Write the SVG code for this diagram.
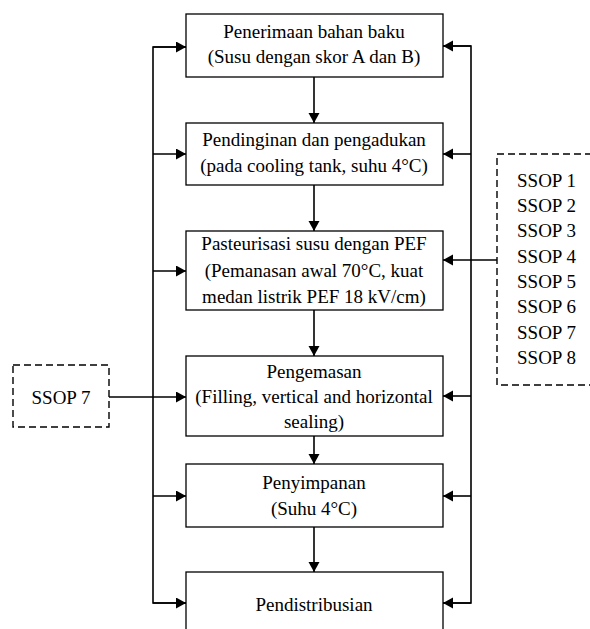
<svg xmlns="http://www.w3.org/2000/svg" width="590" height="629" viewBox="0 0 590 629">
<style>
.box{fill:#fff;stroke:#000;stroke-width:1.3}
.dash{fill:none;stroke:#000;stroke-width:1.4;stroke-dasharray:7 4}
.ln{fill:none;stroke:#000;stroke-width:1.6}
.arr{fill:none;stroke:#000;stroke-width:1.6;marker-end:url(#ah)}
.t{font-family:'Liberation Serif','DejaVu Serif',serif;font-size:19px;fill:#000}
.c{text-anchor:middle}
</style>
<defs>
<marker id="ah" markerUnits="userSpaceOnUse" markerWidth="11" markerHeight="12" refX="10" refY="5.5" orient="auto">
<path d="M0,0 L10,5.5 L0,11 z" fill="#000"/>
</marker>
</defs>
<g id="connectors">
<path class="ln" d="M186,47 H153 V603 H186"/>
<path class="ln" d="M443,46 H471 V603 H443"/>
<path class="arr" d="M153,47 H186"/>
<path class="arr" d="M153,154 H186"/>
<path class="arr" d="M153,271 H186"/>
<path class="arr" d="M109,397 H186"/>
<path class="arr" d="M153,496 H186"/>
<path class="arr" d="M153,603 H186"/>
<path class="arr" d="M471,46 H443"/>
<path class="arr" d="M471,154 H443"/>
<path class="arr" d="M497,260 H443"/>
<path class="arr" d="M471,396 H443"/>
<path class="arr" d="M471,496 H443"/>
<path class="arr" d="M471,603 H443"/>
<path class="arr" d="M314,77 V123"/>
<path class="arr" d="M314,185 V231"/>
<path class="arr" d="M314,310 V356"/>
<path class="arr" d="M314,436 V464"/>
<path class="arr" d="M314,527 V572"/>
</g>
<g font-family="Liberation Serif, DejaVu Serif, serif" font-size="19">
<g id="n1">
<rect class="box" x="186" y="14" width="257" height="63"/>
<text class="t c" x="314" y="38">Penerimaan bahan baku</text>
<text class="t c" x="314" y="63">(Susu dengan skor A dan B)</text>
</g>
<g id="n2">
<rect class="box" x="186" y="123" width="257" height="62"/>
<text class="t c" x="314" y="146">Pendinginan dan pengadukan</text>
<text class="t c" x="314" y="172">(pada cooling tank, suhu 4°C)</text>
</g>
<g id="n3">
<rect class="box" x="186" y="231" width="257" height="79"/>
<text class="t c" x="314" y="250">Pasteurisasi susu dengan PEF</text>
<text class="t c" x="314" y="277">(Pemanasan awal 70°C, kuat</text>
<text class="t c" x="314" y="303">medan listrik PEF 18 kV/cm)</text>
</g>
<g id="n4">
<rect class="box" x="186" y="356" width="257" height="80"/>
<text class="t c" x="314" y="378">Pengemasan</text>
<text class="t c" x="314" y="403">(Filling, vertical and horizontal</text>
<text class="t c" x="314" y="428">sealing)</text>
</g>
<g id="n5">
<rect class="box" x="186" y="464" width="257" height="63"/>
<text class="t c" x="314" y="489">Penyimpanan</text>
<text class="t c" x="314" y="515">(Suhu 4°C)</text>
</g>
<g id="n6">
<rect class="box" x="186" y="572" width="257" height="70"/>
<text class="t c" x="314" y="611">Pendistribusian</text>
</g>
<g id="ssop7">
<rect class="dash" x="13" y="365" width="96" height="62"/>
<text class="t c" x="61" y="404">SSOP 7</text>
</g>
<g id="ssop-list">
<rect class="dash" x="497" y="154" width="110" height="231"/>
<text class="t" x="517" y="187">SSOP 1</text>
<text class="t" x="517" y="212">SSOP 2</text>
<text class="t" x="517" y="237">SSOP 3</text>
<text class="t" x="517" y="263">SSOP 4</text>
<text class="t" x="517" y="288">SSOP 5</text>
<text class="t" x="517" y="313">SSOP 6</text>
<text class="t" x="517" y="339">SSOP 7</text>
<text class="t" x="517" y="364">SSOP 8</text>
</g>
</g>
</svg>
